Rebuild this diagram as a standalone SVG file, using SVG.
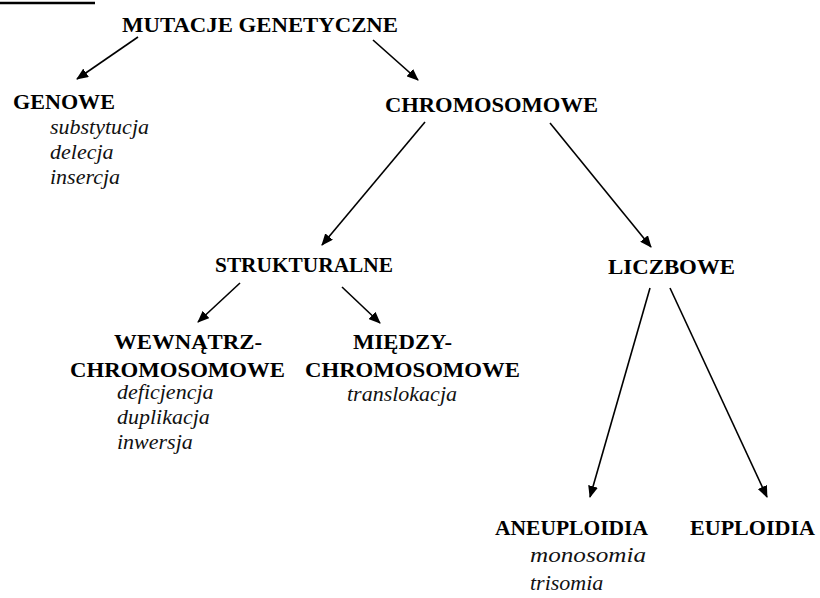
<svg xmlns="http://www.w3.org/2000/svg" width="820" height="598" viewBox="0 0 820 598">
<defs>
<style>
.b{font-family:"Liberation Serif","Times New Roman",serif;font-weight:bold;font-size:20px;fill:#000}
.i{font-family:"Liberation Serif","Times New Roman",serif;font-style:italic;font-size:22px;fill:#111}
.c line{stroke:#000;stroke-width:1.6;fill:none;marker-end:url(#ah)}
</style>
<marker id="ah" markerUnits="userSpaceOnUse" markerWidth="13" markerHeight="10" refX="11" refY="5" orient="auto">
<path d="M0,0 L12,5 L0,10 z" fill="#000"/>
</marker>
</defs>
<rect width="820" height="598" fill="#fff"/>
<line x1="0" y1="3" x2="95" y2="3" stroke="#000" stroke-width="2.5"/>
<g class="c" id="connectors">
<line x1="138" y1="37" x2="77" y2="79"/>
<line x1="373" y1="40" x2="418" y2="80"/>
<line x1="425" y1="122" x2="322" y2="245"/>
<line x1="550" y1="123" x2="651" y2="247"/>
<line x1="240" y1="283" x2="198" y2="322"/>
<line x1="342" y1="287" x2="380" y2="323"/>
<line x1="650" y1="288" x2="590" y2="497"/>
<line x1="670" y1="288" x2="767" y2="497"/>
</g>
<g id="n-mutacje"><text class="b" x="122" y="32" textLength="276" lengthAdjust="spacingAndGlyphs">MUTACJE GENETYCZNE</text></g>
<g id="n-genowe">
<text class="b" x="13" y="109" textLength="102" lengthAdjust="spacingAndGlyphs">GENOWE</text>
<text class="i" x="50" y="134">substytucja</text>
<text class="i" x="50" y="159">delecja</text>
<text class="i" x="50" y="184">insercja</text>
</g>
<g id="n-chromosomowe"><text class="b" x="385" y="112" textLength="213" lengthAdjust="spacingAndGlyphs">CHROMOSOMOWE</text></g>
<g id="n-strukturalne"><text class="b" x="215" y="272" textLength="178" lengthAdjust="spacingAndGlyphs">STRUKTURALNE</text></g>
<g id="n-liczbowe"><text class="b" x="608" y="274" textLength="127" lengthAdjust="spacingAndGlyphs">LICZBOWE</text></g>
<g id="n-wewnatrz">
<text class="b" x="114" y="349" textLength="148" lengthAdjust="spacingAndGlyphs">WEWNĄTRZ-</text>
<text class="b" x="70" y="377" textLength="215" lengthAdjust="spacingAndGlyphs">CHROMOSOMOWE</text>
<text class="i" x="117" y="399">deficjencja</text>
<text class="i" x="117" y="424">duplikacja</text>
<text class="i" x="117" y="449">inwersja</text>
</g>
<g id="n-miedzy">
<text class="b" x="353" y="349" textLength="99" lengthAdjust="spacingAndGlyphs">MIĘDZY-</text>
<text class="b" x="305" y="377" textLength="215" lengthAdjust="spacingAndGlyphs">CHROMOSOMOWE</text>
<text class="i" x="347" y="401">translokacja</text>
</g>
<g id="n-aneuploidia">
<text class="b" x="495" y="535" textLength="153" lengthAdjust="spacingAndGlyphs">ANEUPLOIDIA</text>
<text class="i" x="530" y="562" textLength="116" lengthAdjust="spacingAndGlyphs">monosomia</text>
<text class="i" x="530" y="590">trisomia</text>
</g>
<g id="n-euploidia"><text class="b" x="690" y="535" textLength="125" lengthAdjust="spacingAndGlyphs">EUPLOIDIA</text></g>
</svg>
